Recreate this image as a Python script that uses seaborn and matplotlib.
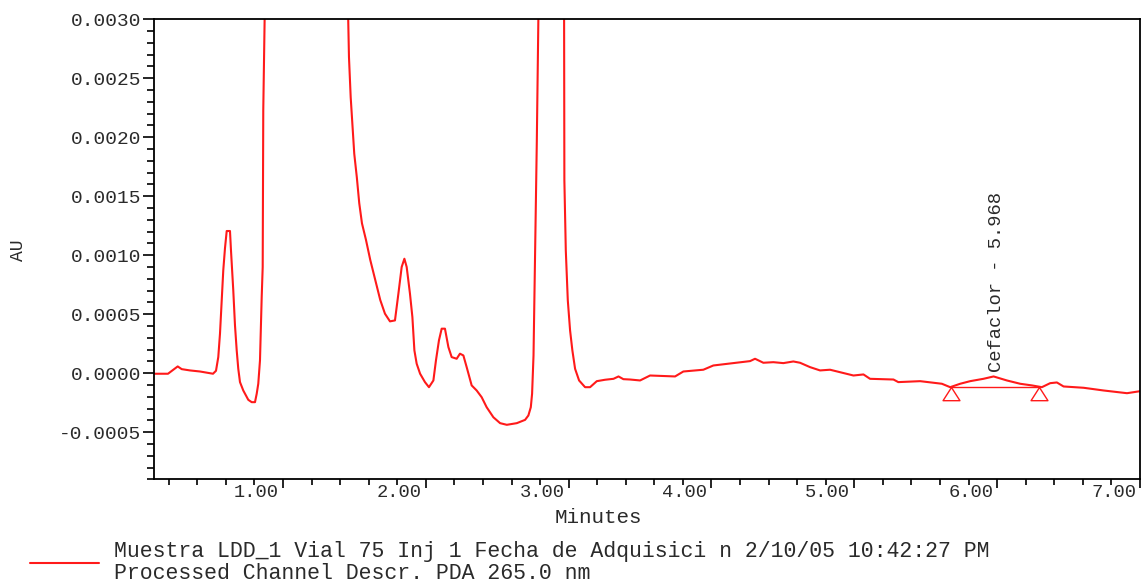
import matplotlib
matplotlib.use("Agg")
import matplotlib.pyplot as plt
import matplotlib.transforms as mtransforms
from matplotlib.ticker import MultipleLocator, FormatStrFormatter, FixedLocator
import seaborn as sns
import pandas as pd

# ---- data ----
time_min = [0.097, 0.195, 0.263, 0.291, 0.349, 0.419, 0.510, 0.531, 0.547, 0.559,
            0.571, 0.582, 0.594, 0.606, 0.629, 0.636, 0.652, 0.664, 0.676, 0.687,
            0.699, 0.722, 0.757, 0.781, 0.804, 0.816, 0.827, 0.839, 0.851, 0.858,
            0.862, 0.874, 0.95, 1.15, 1.40, 1.455, 1.462, 1.474, 1.487, 1.499,
            1.517, 1.534, 1.553, 1.581, 1.611, 1.646, 1.681, 1.714, 1.749, 1.784,
            1.808, 1.831, 1.850, 1.866, 1.889, 1.906, 1.920, 1.936, 1.960, 1.994,
            2.022, 2.053, 2.071, 2.092, 2.111, 2.134, 2.158, 2.181, 2.216, 2.239,
            2.263, 2.286, 2.321, 2.356, 2.391, 2.426, 2.473, 2.520, 2.567, 2.637,
            2.695, 2.718, 2.735, 2.744, 2.754, 2.763, 2.777, 2.790, 2.80, 2.88,
            2.96, 2.968, 2.970, 2.980, 2.994, 3.010, 3.026, 3.045, 3.073, 3.115,
            3.150, 3.197, 3.255, 3.314, 3.349, 3.383, 3.430, 3.500, 3.570, 3.745,
            3.803, 3.943, 4.013, 4.153, 4.270, 4.305, 4.363, 4.433, 4.503, 4.573,
            4.620, 4.690, 4.760, 4.830, 4.900, 4.994, 5.064, 5.110, 5.274, 5.308,
            5.461, 5.613, 5.671, 5.741, 5.811, 5.904, 5.975, 6.068, 6.161, 6.243,
            6.313, 6.371, 6.418, 6.465, 6.605, 6.745, 6.909, 7.000]
absorbance = [-0.000005, -0.000005, 0.000057, 0.000034, 0.000023, 0.000014, -0.000005, 0.000020, 0.000136, 0.000335,
              0.000617, 0.000872, 0.00106, 0.001205, 0.001205, 0.00104, 0.000702, 0.000405, 0.000193, 0.000037,
              -0.000076, -0.000147, -0.000226, -0.000246, -0.000246, -0.000175, -0.000090, 0.000108, 0.000645, 0.000900,
              0.00223, 0.0032, 0.012, 0.030, 0.010, 0.0031, 0.00268, 0.00234, 0.00209, 0.00186,
              0.00166, 0.00144, 0.00127, 0.00113, 0.00096, 0.00079, 0.00062, 0.000504, 0.000439, 0.000447,
              0.000674, 0.000900, 0.000970, 0.000900, 0.000674, 0.000475, 0.000193, 0.000080, -0.000005, -0.000076,
              -0.000119, -0.000062, 0.000108, 0.000278, 0.000377, 0.000377, 0.000221, 0.000136, 0.000122, 0.000165,
              0.000150, 0.000051, -0.000104, -0.000147, -0.000204, -0.000289, -0.000374, -0.000424, -0.000438, -0.000424,
              -0.000396, -0.000359, -0.000289, -0.000175, 0.000150, 0.000872, 0.00196, 0.0032, 0.006, 0.040,
              0.006, 0.0031, 0.001636, 0.00104, 0.000617, 0.000362, 0.000193, 0.000037, -0.000062, -0.000119,
              -0.000119, -0.000068, -0.000056, -0.000048, -0.000028, -0.000051, -0.000054, -0.000062, -0.000020, -0.000028,
              0.000014, 0.000029, 0.000065, 0.000085, 0.000102, 0.000122, 0.000088, 0.000093, 0.000085, 0.000099,
              0.000088, 0.000051, 0.000023, 0.000029, 0.000008, -0.000020, -0.000011, -0.000048, -0.000054, -0.000076,
              -0.000068, -0.000090, -0.000119, -0.000090, -0.000068, -0.000048, -0.000028, -0.000062, -0.000090, -0.000104,
              -0.000119, -0.000085, -0.000079, -0.000113, -0.000124, -0.000147, -0.000170, -0.000153]

# integration baseline for the Cefaclor peak
baseline_time = [5.678, 6.294]
baseline_au = [-0.000119, -0.000119]
peak_name = "Cefaclor"
peak_rt = 5.968
peak_au = -0.000028

x_major_ticks = [1, 2, 3, 4, 5, 6, 7]
y_major_ticks = [-0.0005, 0.0, 0.0005, 0.0010, 0.0015, 0.0020, 0.0025, 0.0030]

legend_text = ("Muestra LDD_1 Vial 75 Inj 1 Fecha de Adquisici n 2/10/05 10:42:27 PM\n"
               "Processed Channel Descr. PDA 265.0 nm")

# ---- style ----
sns.set_style("ticks")
plt.rcParams["font.family"] = ["Liberation Mono", "DejaVu Sans Mono"]
plt.rcParams["axes.unicode_minus"] = False

RED = "#FF1A1A"
TXT = "#2a2a2a"

fig = plt.figure(figsize=(11.42, 5.84), dpi=100)
L, R, B, T = 154 / 1142, 1140 / 1142, 1 - 479.3 / 584, 1 - 19.3 / 584
ax = fig.add_axes([L, B, R - L, T - B])

df = pd.DataFrame({"Minutes": time_min, "AU": absorbance})
sns.lineplot(data=df, x="Minutes", y="AU", ax=ax, color=RED, linewidth=1.5,
             sort=False, estimator=None, label=legend_text)

tri = [(0, 0), (-0.64, -1), (0.64, -1), (0, 0)]
ax.plot(baseline_time, baseline_au, color=RED, linewidth=1.0, marker=tri,
        markersize=19, markerfacecolor="white", markeredgecolor=RED,
        markeredgewidth=1.0)

ax.annotate(f"{peak_name} - {peak_rt:.3f}", xy=(peak_rt, peak_au),
            xytext=(2.5, 3), textcoords="offset points", rotation=90,
            ha="center", va="bottom", fontsize=13.5, color=TXT)

ax.set_xlim(0.097, 7.0)
ax.set_ylim(-0.0009, 0.0030)

ax.xaxis.set_major_locator(FixedLocator(x_major_ticks))
ax.xaxis.set_minor_locator(MultipleLocator(0.2))
ax.xaxis.set_major_formatter(FormatStrFormatter("%.2f"))
ax.yaxis.set_major_locator(FixedLocator(y_major_ticks))
ax.yaxis.set_minor_locator(MultipleLocator(0.0001))
ax.yaxis.set_major_formatter(FormatStrFormatter("%.4f"))

ax.tick_params(axis="both", which="major", direction="out", color="black",
               labelcolor=TXT, width=1.2)
ax.tick_params(axis="y", which="major", length=8, pad=1, labelsize=14)
ax.tick_params(axis="y", which="minor", length=5, width=1.2, color="black")
ax.tick_params(axis="x", which="major", length=6.5, pad=0, labelsize=13.5)
ax.tick_params(axis="x", which="minor", length=4.5, width=1.2, color="black")

for lab in ax.get_xticklabels():
    lab.set_ha("right")
    lab.set_transform(lab.get_transform() +
                      mtransforms.ScaledTranslation(-0.04, 0.045, fig.dpi_scale_trans))

for s in ax.spines.values():
    s.set_visible(True)
    s.set_color("black")
    s.set_linewidth(1.3)

ax.set_xlabel("Minutes", fontsize=15, color=TXT)
ax.set_ylabel("AU", fontsize=13, color=TXT)
ax.xaxis.set_label_coords(0.4503, -0.062)
ax.yaxis.set_label_coords(-0.1288, 0.4985)

leg = ax.legend(handles=[ax.lines[0]], labels=[legend_text],
                loc="upper left", bbox_to_anchor=(30 / 1142, 1 - 541 / 584),
                bbox_transform=fig.transFigure, frameon=False,
                prop={"family": ["Liberation Mono"], "size": 15.5},
                handlelength=3.2, handletextpad=0.72, borderpad=0,
                borderaxespad=0, labelspacing=0)
for t in leg.get_texts():
    t.set_color(TXT)
    t.set_linespacing(1.08)

fig.savefig("out.png", dpi=100, facecolor="white")
